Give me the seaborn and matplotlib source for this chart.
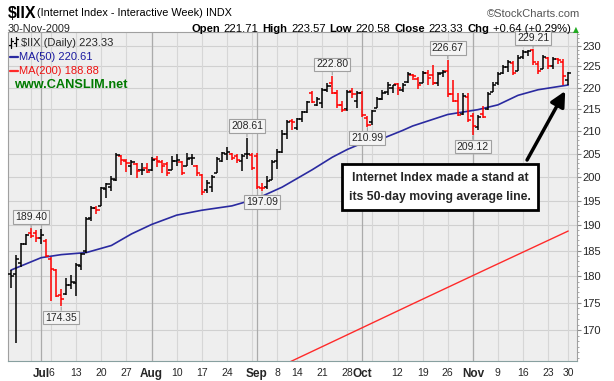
import numpy as np
import pandas as pd
import seaborn as sns
import matplotlib.pyplot as plt
from matplotlib.ticker import FixedLocator, FixedFormatter, NullFormatter
from matplotlib.lines import Line2D

# trading days, Jun 23 - Nov 30 2009
holidays = ["2009-07-03", "2009-09-07", "2009-11-26"]
dates = pd.bdate_range("2009-06-23", "2009-11-30")
dates = dates[~dates.isin(pd.to_datetime(holidays))]

opens = [180.5, 180.5, 182.5, 186.3, 188.5, 188.5, 187.5, 186.8, 183.3, 181.2, 176.5, 176.6, 178.3, 178.8,
         182.0, 185.0, 191.5, 193.5, 194.0, 197.5, 198.0, 199.5, 204.5, 203.5, 202.5, 202.8, 201.5, 202.0,
         201.5, 204.0, 203.3, 202.8, 201.5, 203.5, 203.3, 202.5, 204.2, 202.5, 200.5, 197.2, 198.0, 201.0,
         203.5, 205.0, 205.0, 204.5, 203.5, 205.0, 204.8, 204.5, 197.8, 198.0, 199.5, 203.5, 205.5, 209.5,
         212.3, 210.8, 212.8, 214.4, 218.8, 216.0, 216.5, 219.5, 221.0, 218.8, 216.0, 215.0, 219.3, 217.0,
         218.8, 213.0, 212.0, 215.3, 217.4, 219.0, 220.0, 220.8, 219.5, 221.3, 223.0, 222.0, 221.0, 223.4,
         223.0, 221.0, 223.5, 224.0, 218.4, 217.0, 213.8, 217.8, 213.5, 211.0, 214.0, 215.0, 219.0, 221.0,
         223.4, 224.8, 225.8, 224.0, 227.3, 228.6, 229.0, 225.5, 224.5, 227.0, 225.0, 226.8, 226.0, 221.71]
highs = [181.3, 184.2, 186.5, 188.3, 189.4, 189.1, 189.2, 187.3, 183.7, 181.4, 177.6, 179.7, 180.3, 182.5,
         184.6, 191.8, 194.0, 194.0, 198.0, 198.8, 200.2, 205.3, 204.8, 203.9, 203.7, 203.1, 203.0, 203.1,
         204.3, 204.6, 203.7, 203.3, 204.5, 204.9, 203.4, 205.3, 205.0, 202.7, 200.6, 199.5, 200.5, 204.3,
         205.5, 206.5, 205.2, 204.9, 205.0, 208.61, 205.3, 205.3, 198.7, 200.2, 203.7, 206.0, 210.3, 212.6,
         212.8, 213.0, 214.5, 217.0, 219.1, 217.8, 219.9, 221.0, 222.8, 219.4, 217.0, 219.4, 219.8, 219.2,
         219.1, 213.5, 214.8, 217.7, 219.4, 221.3, 220.7, 221.0, 221.0, 223.6, 223.3, 222.5, 224.0, 224.2,
         225.3, 223.6, 224.1, 226.67, 221.8, 218.8, 218.8, 218.7, 214.2, 213.6, 215.7, 219.0, 221.3, 223.6,
         225.3, 226.6, 226.2, 227.8, 229.0, 229.0, 229.21, 226.2, 227.8, 227.2, 227.3, 227.0, 226.8, 223.57]
lows = [177.7, 167.6, 181.8, 186.0, 187.5, 186.6, 186.3, 183.7, 175.4, 176.0, 174.35, 176.4, 177.5, 176.3,
        181.2, 184.5, 191.0, 192.4, 194.0, 195.6, 197.0, 199.2, 202.6, 201.2, 200.5, 199.8, 200.5, 201.0,
        201.3, 202.1, 201.0, 200.2, 201.5, 202.4, 200.4, 202.5, 202.6, 200.3, 196.3, 196.6, 196.8, 200.8,
        203.2, 203.8, 203.8, 203.0, 201.3, 204.0, 201.6, 197.5, 197.09, 197.5, 199.4, 201.7, 205.3, 208.3,
        210.3, 210.3, 212.2, 214.2, 216.5, 215.8, 215.3, 219.0, 218.6, 215.3, 214.4, 214.6, 217.6, 215.3,
        213.3, 210.99, 211.4, 215.2, 217.2, 218.3, 218.8, 218.3, 219.0, 221.0, 221.8, 219.7, 221.0, 220.6,
        220.6, 220.3, 222.5, 217.8, 216.6, 213.4, 213.6, 212.2, 209.12, 210.2, 213.0, 214.8, 219.0, 220.6,
        223.3, 223.6, 223.0, 223.8, 226.8, 227.4, 225.3, 223.3, 224.3, 224.4, 224.5, 225.6, 220.6, 220.58]
closes = [180.0, 183.3, 186.2, 188.1, 187.9, 187.4, 188.0, 183.9, 181.5, 176.3, 175.8, 178.3, 179.0, 182.2,
          184.3, 191.4, 193.5, 193.2, 197.8, 198.5, 199.6, 204.7, 203.8, 203.1, 203.3, 201.3, 201.5, 201.2,
          203.8, 203.5, 202.5, 200.8, 203.5, 203.8, 201.0, 204.0, 204.2, 201.0, 196.8, 198.8, 200.0, 203.9,
          205.3, 205.4, 204.2, 203.8, 204.6, 205.0, 202.0, 198.0, 197.8, 199.3, 203.3, 205.5, 209.5, 212.2,
          212.0, 212.8, 214.3, 216.7, 216.6, 217.3, 219.5, 220.3, 218.8, 216.0, 214.8, 219.0, 218.4, 218.7,
          213.7, 211.5, 214.5, 217.4, 218.8, 220.5, 220.6, 220.0, 220.5, 223.2, 222.8, 220.5, 223.5, 222.2,
          221.0, 223.3, 223.6, 218.5, 217.0, 213.6, 218.0, 212.6, 211.2, 213.3, 213.2, 218.5, 220.5, 223.3,
          224.8, 226.0, 223.5, 227.0, 228.6, 228.8, 226.0, 224.0, 227.2, 225.0, 226.8, 226.5, 222.69, 223.33]
prior_close = 179.6

ma50_dates = ["2009-06-23", "2009-07-01", "2009-07-08", "2009-07-15", "2009-07-22", "2009-07-28",
              "2009-08-03", "2009-08-10", "2009-08-17", "2009-08-25", "2009-08-28", "2009-09-02",
              "2009-09-09", "2009-09-17", "2009-09-23", "2009-09-28", "2009-10-01", "2009-10-07",
              "2009-10-13", "2009-10-15", "2009-10-26", "2009-11-03", "2009-11-09", "2009-11-13",
              "2009-11-19", "2009-11-30"]
ma50_values = [181.2, 183.6, 184.2, 184.6, 186.0, 188.3, 190.2, 192.1, 193.1, 194.0, 194.9, 196.0,
               197.9, 201.6, 204.3, 206.0, 207.4, 208.4, 210.2, 211.2, 213.8, 214.9, 216.0, 218.2,
               219.5, 220.61]

ma200_dates = ["2009-09-09", "2009-09-24", "2009-10-15", "2009-11-05", "2009-11-30"]
ma200_values = [163.7, 168.3, 174.8, 181.5, 188.88]

label_dates = ["2009-06-29", "2009-07-08", "2009-08-28", "2009-09-02", "2009-09-23",
               "2009-10-02", "2009-10-26", "2009-11-02", "2009-11-18"]
label_values = [189.40, 174.35, 208.61, 197.09, 222.80, 210.99, 226.67, 209.12, 229.21]
label_side = ["high", "low", "high", "low", "high", "low", "high", "low", "high"]

tick_dates = ["2009-07-01", "2009-07-06", "2009-07-13", "2009-07-20", "2009-07-27", "2009-08-03",
              "2009-08-10", "2009-08-17", "2009-08-24", "2009-09-01", "2009-09-08", "2009-09-14",
              "2009-09-21", "2009-09-28", "2009-10-01", "2009-10-12", "2009-10-19", "2009-10-26",
              "2009-11-02", "2009-11-09", "2009-11-16", "2009-11-23", "2009-11-30"]
tick_labels = ["Jul", "6", "13", "20", "27", "Aug", "10", "17", "24", "Sep", "8", "14", "21", "28",
               "Oct", "12", "19", "26", "Nov", "9", "16", "23", "30"]
month_labels = ["Jul", "Aug", "Sep", "Oct", "Nov"]
week_dates = ["2009-06-29", "2009-07-06", "2009-07-13", "2009-07-20", "2009-07-27", "2009-08-03",
              "2009-08-10", "2009-08-17", "2009-08-24", "2009-08-31", "2009-09-08", "2009-09-14",
              "2009-09-21", "2009-09-28", "2009-10-05", "2009-10-12", "2009-10-19", "2009-10-26",
              "2009-11-02", "2009-11-09", "2009-11-16", "2009-11-23", "2009-11-30"]
month_dates = ["2009-07-01", "2009-08-03", "2009-09-01", "2009-10-01", "2009-11-02"]
y_ticks = [170, 175, 180, 185, 190, 195, 200, 205, 210, 215, 220, 225, 230]

quote = [("Open", True), ("221.71", False), ("High", True), ("223.57", False), ("Low", True),
         ("220.58", False), ("Close", True), ("223.33", False), ("Chg", True), ("+0.64 (+0.29%)", False)]


def pos(ds):
    return dates.get_indexer(pd.to_datetime(ds))


df = pd.DataFrame({"date": dates, "open": opens, "high": highs, "low": lows, "close": closes})
df["x"] = np.arange(len(df))
prev = df["close"].shift(1).fillna(prior_close)
df["color"] = np.where(df["close"] < prev, "#ff0000", "#000000")

sns.set_style("white")
plt.rcParams["font.family"] = ["Liberation Sans", "DejaVu Sans"]

fig = plt.figure(figsize=(6.14, 3.81), dpi=100)
ax = fig.add_axes([8 / 614, 20 / 381, 569 / 614, 329 / 381])
ax.set_facecolor("#eeeeee")
ax.set_yscale("log")
ax.set_ylim(164.5, 233.4)
ax.set_xlim(-0.6, 112.75)

# grid
for yv in y_ticks:
    ax.axhline(yv, color="#d0d0d0", lw=0.8, zorder=0)
for xv in pos(week_dates):
    ax.axvline(xv, color="#d6d6d6", lw=0.8, zorder=0)
for xv in pos(month_dates):
    ax.axvline(xv, color="#ababab", lw=0.9, zorder=0)

# moving averages
sns.lineplot(x=pos(ma200_dates), y=ma200_values, ax=ax, color="#ff2a2a", lw=1.0, zorder=2)
sns.lineplot(x=pos(ma50_dates), y=ma50_values, ax=ax, color="#2a2aa0", lw=1.2, zorder=2)

# OHLC bars
ax.vlines(df["x"], df["low"], df["high"], colors=df["color"], lw=1.1, zorder=3)
ax.hlines(df["open"], df["x"] - 0.65, df["x"], colors=df["color"], lw=1.1, zorder=3)
ax.hlines(df["close"], df["x"], df["x"] + 0.65, colors=df["color"], lw=1.1, zorder=3)

# high / low labels
for d, v, s in zip(pos(label_dates), label_values, label_side):
    off = 4.5 if s == "high" else -4.5
    ax.annotate(f"{v:.2f}", xy=(d, v), xytext=(0, off), textcoords="offset points",
                ha="center", va="bottom" if s == "high" else "top", fontsize=7.5,
                bbox=dict(boxstyle="square,pad=0.18", fc="#f4f4f4", ec="#a0a0a0", lw=0.8),
                arrowprops=dict(arrowstyle="-", color="#a0a0a0", lw=0.8, shrinkA=0, shrinkB=0.5),
                zorder=5)

# axes styling
ax.yaxis.tick_right()
ax.yaxis.set_major_locator(FixedLocator(y_ticks))
ax.yaxis.set_major_formatter(FixedFormatter([str(v) for v in y_ticks]))
ax.yaxis.set_minor_locator(FixedLocator(list(range(165, 234))))
ax.yaxis.set_minor_formatter(NullFormatter())
ax.tick_params(axis="y", which="major", length=3, width=0.8, color="#888888", labelsize=8, pad=1)
ax.tick_params(axis="y", which="minor", length=1.5, width=0.6, color="#999999")

ax.xaxis.set_major_locator(FixedLocator(pos(tick_dates)))
ax.xaxis.set_major_formatter(FixedFormatter(tick_labels))
ax.xaxis.set_minor_locator(FixedLocator(list(df["x"])))
ax.tick_params(axis="x", which="major", length=3, width=0.8, color="#88a0a0", labelsize=7.5, pad=2)
ax.tick_params(axis="x", which="minor", length=1.5, width=0.6, color="#88a0a0")
for t in ax.get_xticklabels():
    if t.get_text() in month_labels:
        t.set_fontweight("bold")
        t.set_fontsize(8.5)
for sp in ax.spines.values():
    sp.set_color("#a0a0a0")
    sp.set_linewidth(0.8)
ax.spines["bottom"].set_color("#88a0a0")
ax.set_xlabel("")
ax.set_ylabel("")

# callout
ax.text(85.5, 197.9, "Internet Index made a stand at\nits 50-day moving average line.",
        ha="center", va="center", fontsize=8.8, fontweight="bold", linespacing=1.8, zorder=6,
        bbox=dict(boxstyle="square,pad=0.6", fc="white", ec="black", lw=2))
ax.annotate("", xy=(110.4, 219.2), xytext=(102.8, 203.7),
            arrowprops=dict(arrowstyle="-|>,head_length=0.9,head_width=0.45", color="black",
                            lw=2.5, shrinkA=0, shrinkB=0), zorder=6)


def fx(x):
    return x / 614


def fy(y):
    return 1 - y / 381


renderer = fig.canvas.get_renderer()


def chain(x0, y, parts, size, gap=3.5, color="black"):
    x = x0
    for s, b in parts:
        t = fig.text(fx(x), fy(y), s, fontsize=size, fontweight="bold" if b else "normal",
                     va="center", color=color)
        x += t.get_window_extent(renderer).width + gap
    return x


# header
chain(8, 13, [(r"\$IIX", True)], 11.5, gap=0)
chain(37, 13.5, [("(Internet Index - Interactive Week)", False), ("INDX", False)], 7.8)
fig.text(fx(580), fy(14), "\u00a9StockCharts.com", fontsize=8, color="#555555", ha="right", va="center")
fig.text(fx(8), fy(29), "30-Nov-2009", fontsize=7.8, va="center")
chain(191, 29, quote, 8.1, gap=3.8)
fig.text(fx(573), fy(30), "\u25b2", fontsize=5.5, color="#22aa22", family=["DejaVu Sans"], va="center")

# in-chart legend
for xs, ys in [([11, 11], [38, 48]), ([9, 11], [45, 45]), ([11, 13], [41, 41]),
               ([15.5, 15.5], [37, 46]), ([13.5, 15.5], [43, 43]), ([15.5, 17.5], [39, 39])]:
    fig.add_artist(Line2D([fx(v) for v in xs], [fy(v) for v in ys], color="black", lw=0.9))
fig.text(fx(21), fy(43), r"\$IIX (Daily) 223.33", fontsize=8, va="center")
fig.add_artist(Line2D([fx(10), fx(18)], [fy(57), fy(57)], color="#2a2aa0", lw=1.6))
fig.text(fx(19), fy(57), "MA(50) 220.61", fontsize=8, color="#1a1aa0", va="center")
fig.add_artist(Line2D([fx(10), fx(18)], [fy(71), fy(71)], color="#ff2a2a", lw=1.6))
fig.text(fx(19), fy(71), "MA(200) 188.88", fontsize=8, color="#ee1111", va="center")
fig.text(fx(14), fy(85), "www.CANSLIM.net", fontsize=9.2, fontweight="bold", color="#007a00", va="center")

plt.savefig("out.png", dpi=100)
